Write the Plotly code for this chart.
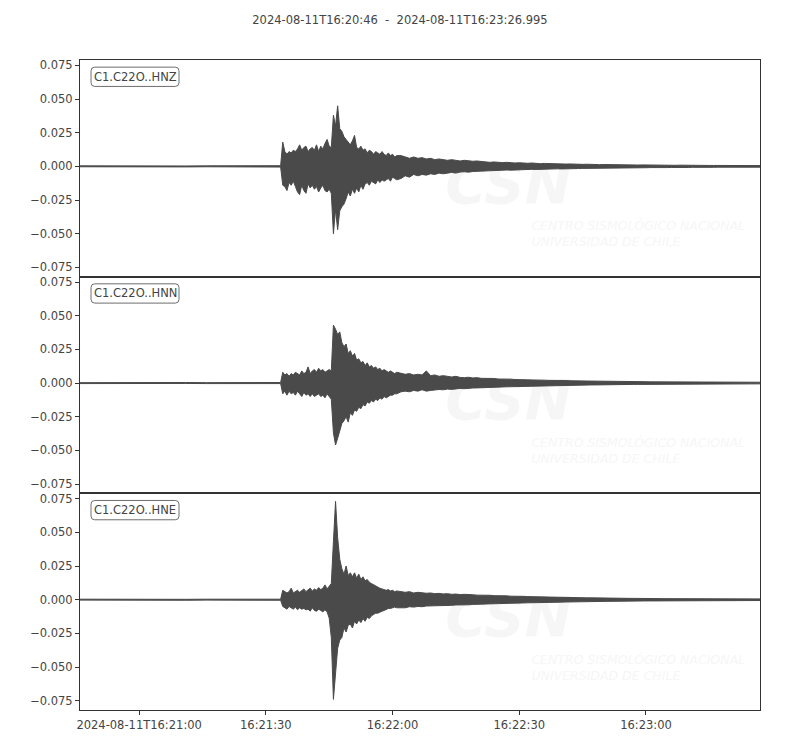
import pandas as pd
import plotly.graph_objects as go
from plotly.subplots import make_subplots

# ---------------- data ----------------
start_time = "2024-08-11 16:20:46"
title_text = "2024-08-11T16:20:46  -  2024-08-11T16:23:26.995"
channels = ["C1.C22O..HNZ", "C1.C22O..HNN", "C1.C22O..HNE"]

# seconds after start time (envelope sample times)
t_sec = [
    0, 5, 10, 15, 20, 25, 30, 35, 40, 45,
    47.5, 48.0, 48.5, 49.0, 49.5, 50.0, 50.5, 51.0, 51.5, 52.0,
    52.5, 53.0, 53.5, 54.0, 54.5, 55.0, 55.5, 56.0, 56.5, 57.0,
    57.5, 58.0, 58.5, 59.0, 59.5, 60.0, 60.5, 61.0, 61.5, 62.0,
    62.5, 63.0, 63.5, 64.0, 64.5, 65.0, 65.5, 66.0, 66.5, 67.0,
    67.5, 68.0, 68.5, 69.0, 69.5, 70.0, 70.5, 71.0, 71.5, 72.0,
    72.5, 73.0, 73.5, 74.0, 74.5, 75.0,
    76, 77, 78, 79, 80, 81, 82, 83, 84, 85,
    86, 87, 88, 89, 90, 91, 92, 93, 94, 95,
    96, 97, 98, 99, 100, 101, 102, 103, 104, 105,
    106, 107, 108, 109, 110, 111, 112, 113, 114, 115,
    116, 117, 118, 119, 120, 121, 122, 123, 124, 125,
    126, 127, 128, 129, 130, 131, 132, 133, 134, 135,
    136, 137, 138, 139, 140, 141, 142, 143, 144, 145,
    146, 147, 148, 149, 150, 151, 152, 153, 154, 155,
    156, 157, 158, 159, 160, 160.995,
]

# ---- HNZ ----
hnz_upper = [
    0.0004, 0.0003, 0.0004, 0.0003, 0.0004, 0.0003, 0.0004, 0.0003, 0.0004, 0.0004,
    0.0005, 0.018, 0.011, 0.009, 0.011, 0.010, 0.012, 0.011, 0.013, 0.016,
    0.012, 0.014, 0.015, 0.011, 0.013, 0.014, 0.012, 0.016, 0.011, 0.015,
    0.013, 0.017, 0.020, 0.015, 0.014, 0.038, 0.030, 0.045, 0.028, 0.026,
    0.022, 0.020, 0.018, 0.016, 0.019, 0.023, 0.014, 0.013, 0.015, 0.012,
    0.013, 0.010, 0.012, 0.011, 0.009, 0.011, 0.010, 0.009, 0.011, 0.009,
    0.008, 0.010, 0.008, 0.009, 0.007, 0.008,
    0.008, 0.007, 0.006, 0.007, 0.006, 0.0065, 0.0055, 0.006, 0.005, 0.0055,
    0.005, 0.0045, 0.005, 0.0045, 0.004, 0.0045, 0.004, 0.0038, 0.004, 0.0035,
    0.0035, 0.003, 0.0033, 0.003, 0.0028, 0.003, 0.0027, 0.0025, 0.0027, 0.0024,
    0.0023, 0.0025, 0.0022, 0.002, 0.0022, 0.002, 0.0019, 0.002, 0.0018, 0.0017,
    0.0018, 0.0016, 0.0017, 0.0015, 0.0016, 0.0014, 0.0015, 0.0013, 0.0014, 0.0013,
    0.0012, 0.0013, 0.0012, 0.0011, 0.0012, 0.0011, 0.001, 0.0011, 0.001, 0.001,
    0.001, 0.0009, 0.001, 0.0009, 0.0009, 0.0008, 0.0009, 0.0008, 0.0008, 0.0008,
    0.0008, 0.0007, 0.0008, 0.0007, 0.0007, 0.0007, 0.0007, 0.0006, 0.0007, 0.0006,
    0.0006, 0.0006, 0.0006, 0.0006, 0.0006, 0.0006,
]
hnz_lower = [
    -0.0003, -0.0004, -0.0003, -0.0004, -0.0003, -0.0004, -0.0003, -0.0004, -0.0003, -0.0004,
    -0.0005, -0.014, -0.015, -0.018, -0.012, -0.014, -0.011, -0.015, -0.019, -0.021,
    -0.014, -0.018, -0.020, -0.013, -0.016, -0.014, -0.017, -0.015, -0.019, -0.016,
    -0.014, -0.018, -0.019, -0.017, -0.020, -0.050, -0.032, -0.047, -0.033, -0.030,
    -0.028, -0.024, -0.019, -0.022, -0.017, -0.020, -0.016, -0.019, -0.014, -0.017,
    -0.013, -0.012, -0.014, -0.011, -0.012, -0.013, -0.010, -0.012, -0.010, -0.011,
    -0.010, -0.009, -0.011, -0.008, -0.009, -0.010,
    -0.009, -0.007, -0.008, -0.006, -0.007, -0.006, -0.0065, -0.0055, -0.006, -0.005,
    -0.0055, -0.005, -0.0045, -0.005, -0.0042, -0.004, -0.0043, -0.0038, -0.0036, -0.0038,
    -0.0033, -0.0034, -0.003, -0.0031, -0.0029, -0.0027, -0.0028, -0.0026, -0.0025, -0.0026,
    -0.0023, -0.0022, -0.0023, -0.0021, -0.002, -0.0021, -0.0019, -0.0018, -0.0019, -0.0017,
    -0.0017, -0.0016, -0.0016, -0.0015, -0.0015, -0.0014, -0.0014, -0.0013, -0.0013, -0.0012,
    -0.0013, -0.0012, -0.0011, -0.0012, -0.0011, -0.001, -0.0011, -0.001, -0.001, -0.0009,
    -0.001, -0.0009, -0.0009, -0.0009, -0.0008, -0.0009, -0.0008, -0.0008, -0.0008, -0.0007,
    -0.0008, -0.0007, -0.0007, -0.0007, -0.0007, -0.0006, -0.0007, -0.0006, -0.0006, -0.0006,
    -0.0006, -0.0006, -0.0006, -0.0006, -0.0006, -0.0006,
]

# ---- HNN ----
hnn_upper = [
    0.0003, 0.0004, 0.0003, 0.0004, 0.0003, 0.0004, 0.0003, 0.0004, 0.0003, 0.0004,
    0.0004, 0.008, 0.006, 0.007, 0.005, 0.007, 0.006, 0.008, 0.007, 0.006,
    0.009, 0.007, 0.008, 0.012, 0.007, 0.009, 0.010, 0.008, 0.011, 0.009,
    0.010, 0.008, 0.009, 0.010, 0.009, 0.043, 0.040, 0.036, 0.038, 0.030,
    0.027, 0.029, 0.022, 0.024, 0.020, 0.022, 0.017, 0.018, 0.015, 0.016,
    0.013, 0.015, 0.012, 0.013, 0.011, 0.012, 0.010, 0.011, 0.009, 0.010,
    0.009, 0.008, 0.009, 0.008, 0.007, 0.008,
    0.007, 0.0065, 0.007, 0.006, 0.0065, 0.006, 0.009, 0.0055, 0.006, 0.005,
    0.0055, 0.005, 0.0045, 0.005, 0.0042, 0.004, 0.0043, 0.0038, 0.004, 0.0035,
    0.0036, 0.0033, 0.0034, 0.003, 0.0031, 0.0028, 0.0029, 0.0026, 0.0027, 0.0025,
    0.0024, 0.0023, 0.0024, 0.0022, 0.0021, 0.002, 0.0021, 0.0019, 0.0018, 0.0019,
    0.0017, 0.0018, 0.0016, 0.0016, 0.0015, 0.0015, 0.0014, 0.0014, 0.0013, 0.0013,
    0.0012, 0.0013, 0.0012, 0.0011, 0.0011, 0.0011, 0.001, 0.001, 0.001, 0.0009,
    0.0009, 0.001, 0.0009, 0.0008, 0.0009, 0.0008, 0.0008, 0.0008, 0.0007, 0.0008,
    0.0007, 0.0007, 0.0007, 0.0007, 0.0006, 0.0007, 0.0006, 0.0006, 0.0006, 0.0006,
    0.0006, 0.0006, 0.0006, 0.0006, 0.0006, 0.0006,
]
hnn_lower = [
    -0.0004, -0.0003, -0.0004, -0.0003, -0.0004, -0.0003, -0.0004, -0.0003, -0.0004, -0.0003,
    -0.0004, -0.008, -0.006, -0.009, -0.006, -0.008, -0.007, -0.009, -0.006, -0.008,
    -0.010, -0.007, -0.009, -0.008, -0.010, -0.008, -0.010, -0.009, -0.008, -0.010,
    -0.009, -0.011, -0.008, -0.010, -0.012, -0.037, -0.046, -0.041, -0.035, -0.030,
    -0.028, -0.025, -0.029, -0.022, -0.024, -0.020, -0.021, -0.018, -0.019, -0.016,
    -0.017, -0.014, -0.015, -0.013, -0.014, -0.012, -0.013, -0.011, -0.012, -0.010,
    -0.011, -0.010, -0.009, -0.009, -0.008, -0.008,
    -0.0065, -0.006, -0.0065, -0.0055, -0.006, -0.005, -0.006, -0.0055, -0.005, -0.0048,
    -0.005, -0.0045, -0.0047, -0.0042, -0.004, -0.0042, -0.0038, -0.0037, -0.0036, -0.0034,
    -0.0034, -0.0032, -0.003, -0.0031, -0.0029, -0.0028, -0.0027, -0.0026, -0.0025, -0.0025,
    -0.0023, -0.0023, -0.0022, -0.0021, -0.0021, -0.002, -0.0019, -0.0019, -0.0018, -0.0018,
    -0.0017, -0.0016, -0.0016, -0.0015, -0.0015, -0.0014, -0.0014, -0.0013, -0.0013, -0.0012,
    -0.0012, -0.0012, -0.0011, -0.0011, -0.0011, -0.001, -0.001, -0.001, -0.0009, -0.0009,
    -0.0009, -0.0009, -0.0009, -0.0008, -0.0008, -0.0008, -0.0008, -0.0007, -0.0008, -0.0007,
    -0.0007, -0.0007, -0.0007, -0.0006, -0.0007, -0.0006, -0.0006, -0.0006, -0.0006, -0.0006,
    -0.0006, -0.0006, -0.0006, -0.0006, -0.0006, -0.0006,
]

# ---- HNE ----
hne_upper = [
    0.0004, 0.0003, 0.0004, 0.0003, 0.0004, 0.0003, 0.0004, 0.0003, 0.0004, 0.0003,
    0.0004, 0.007, 0.006, 0.005, 0.006, 0.0086, 0.005, 0.006, 0.007, 0.0055,
    0.0065, 0.008, 0.006, 0.0075, 0.0086, 0.0065, 0.008, 0.007, 0.009, 0.0075,
    0.0085, 0.011, 0.008, 0.010, 0.012, 0.043, 0.073, 0.046, 0.030, 0.023,
    0.019, 0.025, 0.018, 0.020, 0.017, 0.020, 0.016, 0.019, 0.015, 0.017,
    0.014, 0.015, 0.013, 0.012, 0.011, 0.010, 0.009, 0.0085, 0.008, 0.0075,
    0.007, 0.0075, 0.0065, 0.007, 0.006, 0.0065,
    0.006, 0.0055, 0.006, 0.005, 0.0055, 0.005, 0.0048, 0.005, 0.0045, 0.0047,
    0.0043, 0.0045, 0.004, 0.0042, 0.0038, 0.004, 0.0036, 0.0037, 0.0034, 0.0035,
    0.0032, 0.0033, 0.003, 0.0031, 0.0028, 0.0029, 0.0026, 0.0027, 0.0024, 0.0025,
    0.0023, 0.0022, 0.0023, 0.0021, 0.002, 0.0019, 0.002, 0.0018, 0.0017, 0.0017,
    0.0016, 0.0016, 0.0015, 0.0015, 0.0014, 0.0014, 0.0013, 0.0013, 0.0012, 0.0012,
    0.0011, 0.0012, 0.0011, 0.001, 0.001, 0.001, 0.0009, 0.001, 0.0009, 0.0009,
    0.0008, 0.0009, 0.0008, 0.0008, 0.0008, 0.0007, 0.0008, 0.0007, 0.0007, 0.0007,
    0.0007, 0.0007, 0.0006, 0.0007, 0.0006, 0.0006, 0.0006, 0.0006, 0.0006, 0.0006,
    0.0006, 0.0006, 0.0006, 0.0006, 0.0006, 0.0006,
]
hne_lower = [
    -0.0003, -0.0004, -0.0003, -0.0004, -0.0003, -0.0004, -0.0003, -0.0004, -0.0003, -0.0004,
    -0.0004, -0.005, -0.006, -0.007, -0.005, -0.006, -0.007, -0.0055, -0.0074, -0.006,
    -0.007, -0.0065, -0.0075, -0.007, -0.0085, -0.006, -0.008, -0.0086, -0.007, -0.008,
    -0.009, -0.0075, -0.009, -0.0136, -0.028, -0.074, -0.052, -0.036, -0.030, -0.028,
    -0.021, -0.024, -0.019, -0.018, -0.021, -0.016, -0.018, -0.015, -0.017, -0.014,
    -0.016, -0.013, -0.014, -0.012, -0.011, -0.010, -0.010, -0.009, -0.0085, -0.008,
    -0.007, -0.0065, -0.0065, -0.006, -0.0055, -0.006,
    -0.0058, -0.006, -0.0052, -0.0055, -0.005, -0.0052, -0.0047, -0.0048, -0.0045, -0.0044,
    -0.0045, -0.0041, -0.0042, -0.0039, -0.004, -0.0037, -0.0038, -0.0035, -0.0035, -0.0033,
    -0.0033, -0.0031, -0.003, -0.0029, -0.0029, -0.0027, -0.0027, -0.0025, -0.0025, -0.0024,
    -0.0023, -0.0023, -0.0021, -0.0021, -0.002, -0.002, -0.0019, -0.0018, -0.0018, -0.0017,
    -0.0016, -0.0016, -0.0015, -0.0015, -0.0014, -0.0014, -0.0013, -0.0013, -0.0012, -0.0012,
    -0.0012, -0.0011, -0.0011, -0.001, -0.001, -0.001, -0.001, -0.0009, -0.0009, -0.0009,
    -0.0009, -0.0008, -0.0008, -0.0008, -0.0008, -0.0007, -0.0007, -0.0007, -0.0007, -0.0007,
    -0.0007, -0.0006, -0.0007, -0.0006, -0.0006, -0.0006, -0.0006, -0.0006, -0.0006, -0.0006,
    -0.0006, -0.0006, -0.0006, -0.0006, -0.0006, -0.0006,
]

y_ticks = [-0.075, -0.050, -0.025, 0.000, 0.025, 0.050, 0.075]
x_tick_times = ["2024-08-11 16:21:00", "2024-08-11 16:21:30", "2024-08-11 16:22:00",
                "2024-08-11 16:22:30", "2024-08-11 16:23:00"]
x_tick_labels = ["2024-08-11T16:21:00", "16:21:30", "16:22:00", "16:22:30", "16:23:00"]
end_time = "2024-08-11 16:23:26.995"
y_range = [-0.0819, 0.0790]

# ---------------- figure ----------------
times = pd.Timestamp(start_time) + pd.to_timedelta(t_sec, unit="s")
envelopes = [(hnz_upper, hnz_lower), (hnn_upper, hnn_lower), (hne_upper, hne_lower)]

TRACE = "#4a4a4a"
AXC = "#333333"
TXT = "#444444"
FONT = "DejaVu Sans"
WM = "#f6f6f6"


def rounded_box(x0, x1, y0, y1, rx, ry):
    return (f"M {x0+rx},{y1} L {x1-rx},{y1} Q {x1},{y1} {x1},{y1-ry} "
            f"L {x1},{y0+ry} Q {x1},{y0} {x1-rx},{y0} "
            f"L {x0+rx},{y0} Q {x0},{y0} {x0},{y0+ry} "
            f"L {x0},{y1-ry} Q {x0},{y1} {x0+rx},{y1} Z")


fig = make_subplots(rows=3, cols=1, shared_xaxes=True, vertical_spacing=0)

for i, (up, lo) in enumerate(envelopes, start=1):
    fig.add_trace(go.Scatter(x=times, y=lo, mode="lines",
                             line=dict(color=TRACE, width=1),
                             hoverinfo="skip", showlegend=False), row=i, col=1)
    fig.add_trace(go.Scatter(x=times, y=up, mode="lines", fill="tonexty",
                             fillcolor=TRACE, line=dict(color=TRACE, width=1),
                             hoverinfo="skip", showlegend=False), row=i, col=1)

    xr = "x domain" if i == 1 else f"x{i} domain"
    yr = "y domain" if i == 1 else f"y{i} domain"

    # faint CSN watermark (behind the traces)
    fig.add_shape(type="rect", xref=xr, yref=yr, x0=0.54, x1=0.72, y0=0.30, y1=0.60,
                  line=dict(width=0), layer="below",
                  label=dict(text="<b><i>CSN</i></b>", font=dict(size=56, color=WM, family=FONT),
                             textposition="middle center"))
    fig.add_shape(type="rect", xref=xr, yref=yr, x0=0.655, x1=0.995, y0=0.11, y1=0.29,
                  line=dict(width=0), layer="below",
                  label=dict(text="<i>CENTRO SISMOLÓGICO NACIONAL<br>UNIVERSIDAD DE CHILE</i>",
                             font=dict(size=12.5, color=WM, family=FONT),
                             textposition="middle left"))

    # rounded label box + channel id
    fig.add_shape(type="path", xref=xr, yref=yr,
                  path=rounded_box(0.0162, 0.1456, 0.878, 0.967, 0.0055, 0.017),
                  line=dict(color="#6e6e6e", width=1), fillcolor="white", layer="above")
    fig.add_annotation(xref=xr, yref=yr, x=0.0809, y=0.9225, xanchor="center", yanchor="middle",
                       text=channels[i - 1], showarrow=False,
                       font=dict(family=FONT, size=11.5, color=TXT))

    fig.update_yaxes(row=i, col=1, range=y_range, tickvals=y_ticks, tickformat=".3f",
                     showgrid=False, zeroline=False, showline=True, mirror=True,
                     linecolor=AXC, linewidth=1, ticks="outside", ticklen=4, tickcolor=AXC,
                     tickfont=dict(family=FONT, size=11.5, color=TXT))
    fig.update_xaxes(row=i, col=1, type="date", range=[start_time, end_time],
                     showgrid=False, zeroline=False, showline=True, mirror=True,
                     linecolor=AXC, linewidth=1,
                     tickvals=x_tick_times, ticktext=x_tick_labels,
                     ticks="outside" if i == 3 else "", ticklen=4, tickcolor=AXC,
                     showticklabels=(i == 3),
                     tickfont=dict(family=FONT, size=11.5, color=TXT))

# the page adds an 8px body margin; margins are set so the plot lands where the reference has it
fig.update_layout(
    width=800, height=750,
    margin=dict(l=72, r=48, t=52, b=48),
    paper_bgcolor="white", plot_bgcolor="white",
    title=dict(text=title_text, x=0.49, xref="container", xanchor="center",
               y=1 - 12 / 750, yref="container", yanchor="middle",
               font=dict(family=FONT, size=11.5, color=TXT)),
    showlegend=False,
)

fig.write_html("out.html")
